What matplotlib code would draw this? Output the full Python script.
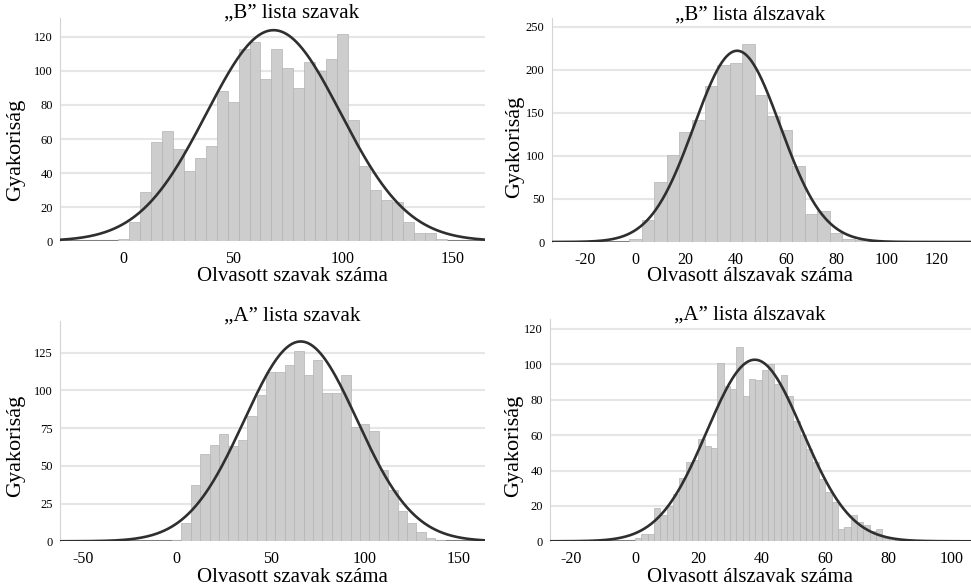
import numpy as np
import matplotlib
matplotlib.use('Agg')
import matplotlib.pyplot as plt

plt.rcParams['font.family'] = ['Liberation Serif', 'DejaVu Serif']
plt.rcParams['axes.unicode_minus'] = False

# bar heights (bins of width 5, first bin centred at 0)
b_szavak = [1, 11, 29, 58, 65, 54, 41, 49, 56, 88, 82, 113, 117, 95, 113, 102,
            90, 105, 100, 107, 122, 71, 44, 30, 24, 23, 11, 5, 5, 1]
b_alszavak = [3, 25, 70, 101, 128, 142, 181, 206, 208, 230, 171, 146, 130, 88,
              33, 36, 10, 4, 2]
a_szavak = [1, 12, 37, 58, 64, 71, 63, 67, 83, 97, 112, 112, 117, 126, 110, 120,
            98, 98, 110, 76, 78, 73, 47, 34, 20, 12, 6, 2, 1]
# bins of width 2, first bin centred at 1
a_alszavak = [2, 4, 4, 19, 15, 20, 27, 36, 45, 46, 58, 54, 53, 101, 88, 86, 110,
              82, 92, 91, 97, 100, 89, 94, 82, 68, 60, 52, 45, 35, 28, 22, 7, 8,
              15, 11, 9, 6, 7, 2, 2, 1, 1, 1, 1]

bin_start = [0, 0, 0, 1]
bin_width = [5, 5, 5, 2]

# fitted normal curve: mean, sd, N
fit_mean = [68.5, 40.5, 66, 37.8]
fit_sd = [30.6, 17.2, 30, 15.1]
fit_n = [1902, 1914, 1990, 1942]

titles = ['\u201eB\u201d lista szavak', '\u201eB\u201d lista álszavak',
          '\u201eA\u201d lista szavak', '\u201eA\u201d lista álszavak']
xlabels = ['Olvasott szavak száma', 'Olvasott álszavak száma',
           'Olvasott szavak száma', 'Olvasott álszavak száma']
xticks = [[0, 50, 100, 150], [-20, 0, 20, 40, 60, 80, 100, 120],
          [-50, 0, 50, 100, 150], [-20, 0, 20, 40, 60, 80, 100]]
yticks = [[0, 20, 40, 60, 80, 100, 120], [0, 50, 100, 150, 200, 250],
          [0, 25, 50, 75, 100, 125], [0, 20, 40, 60, 80, 100, 120]]
xlims = [(-29, 165), (-33.5, 133.6), (-62, 164), (-26.8, 106)]
ylims = [(0, 131), (0, 260), (0, 146), (0, 125.6)]

counts = [b_szavak, b_alszavak, a_szavak, a_alszavak]

rects = [[0.0618, 0.590, 0.4377, 0.379],
         [0.568, 0.5884, 0.4316, 0.381],
         [0.0618, 0.0794, 0.4377, 0.375],
         [0.5664, 0.0794, 0.4336, 0.378]]
title_pos = [(0.546, 1.022), (0.473, 1.013), (0.546, 1.023), (0.475, 1.019)]
xlab_pos = [(0.546, -0.160), (0.473, -0.155), (0.546, -0.162), (0.475, -0.161)]
ylab_pos = [(-0.1035, 0.408), (-0.088, 0.424), (-0.1035, 0.433), (-0.086, 0.43)]

fig = plt.figure(figsize=(9.71, 5.88), dpi=100)

for i in range(4):
    ax = fig.add_axes(rects[i])
    vals = counts[i]
    centers = bin_start[i] + bin_width[i] * np.arange(len(vals))
    ax.bar(centers, vals, width=bin_width[i], color='#cdcdcd',
           edgecolor='#b3b3b3', linewidth=0.5, zorder=2)

    x = np.linspace(xlims[i][0], xlims[i][1], 500)
    m, s = fit_mean[i], fit_sd[i]
    y = fit_n[i] * bin_width[i] * np.exp(-(x - m) ** 2 / (2 * s ** 2)) / (s * np.sqrt(2 * np.pi))
    ax.axhline(0, color='#808080', linewidth=2.2, zorder=1.5)
    ax.plot(x, y, color='#2f2f2f', linewidth=1.9, zorder=3)

    ax.set_xlim(xlims[i])
    ax.set_ylim(ylims[i])
    ax.set_xticks(xticks[i])
    ax.set_yticks(yticks[i])
    ax.tick_params(axis='x', length=0, pad=7, labelsize=11.5)
    ax.tick_params(axis='y', length=0, pad=5, labelsize=9)
    ax.grid(axis='y', color='#e6e6e6', linewidth=1.5, zorder=0)
    ax.set_axisbelow(True)
    for side in ['top', 'right', 'bottom']:
        ax.spines[side].set_visible(False)
    ax.spines['left'].set_color('#d4d4d4')

    ax.text(title_pos[i][0], title_pos[i][1], titles[i], transform=ax.transAxes,
            ha='center', va='center', fontsize=15)
    ax.text(xlab_pos[i][0], xlab_pos[i][1], xlabels[i], transform=ax.transAxes,
            ha='center', va='center', fontsize=15)
    ax.text(ylab_pos[i][0], ylab_pos[i][1], 'Gyakoriság', transform=ax.transAxes,
            ha='center', va='center', rotation=90, fontsize=16)

fig.savefig('out.png', dpi=100)
